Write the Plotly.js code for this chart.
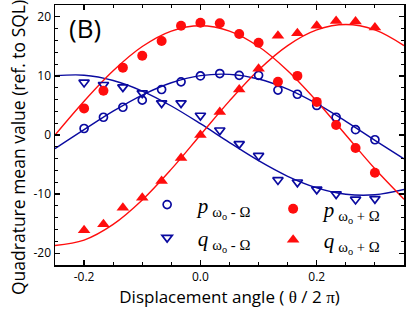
<!DOCTYPE html>
<html>
<head>
<meta charset="utf-8">
<script src="https://cdn.plot.ly/plotly-3.0.1.min.js"></script>
<style>html,body{margin:0;padding:0;background:#fff;}#chart{width:407px;height:314px;}</style>
</head>
<body>
<div id="chart"></div>
<script>
// Measured points (displacement angle θ/2π)
const angle = [-0.2, -0.1667, -0.1333, -0.1, -0.0667, -0.0333, 0, 0.0333, 0.0667, 0.1, 0.1333, 0.1667, 0.2, 0.2333, 0.2667, 0.3];
const pMinus = [1.1, 3.0, 4.7, 5.9, 7.7, 9.0, 10.0, 10.4, 10.1, 10.1, 7.6, 6.9, 5.0, 3.0, 0.9, -0.8];
const qMinus = [8.9, 8.5, 8.1, 7.1, 5.4, 5.4, 3.3, 0.8, -1.5, -3.5, -7.6, -8.0, -9.2, -10.0, -10.9, -10.8];
const pPlus = [4.5, 7.5, 11.4, 13.4, 15.9, 18.5, 19.0, 18.9, 17.1, 15.6, 9.0, 10.0, 5.6, 1.7, -2.2, -6.4];
const qPlus = [-16.1, -15.1, -12.3, -10.6, -7.8, -3.9, 0.0, 3.9, 7.7, 11.2, 16.8, 17.2, 18.5, 19.3, 19.2, 18.2];

// Fit curves
const fitAngle = [-0.25, -0.2, -0.15, -0.1, -0.05, 0, 0.05, 0.1, 0.15, 0.2, 0.25, 0.3, 0.35];
const fitPMinus = [-2.31, 0.90, 4.03, 6.76, 8.84, 10.04, 10.26, 9.48, 7.77, 5.30, 2.31, -0.90, -4.03];
const fitQMinus = [10.02, 10.12, 9.23, 7.44, 4.91, 1.91, -1.28, -4.35, -6.99, -8.94, -10.02, -10.12, -9.23];
const fitPPlus = [0.0, 5.72, 10.87, 14.97, 17.59, 18.5, 17.59, 14.97, 10.87, 5.72, 0.0, -5.72, -10.87];
const fitQPlus = [-18.7, -17.78, -15.13, -11.0, -5.78, 0.0, 5.78, 11.0, 15.13, 17.78, 18.7, 17.78, 15.13];

const xTickVals = [-0.2, 0.0, 0.2];
const xTickText = ['-0.2', '0.0', '0.2'];
const yTickVals = [-20, -10, 0, 10, 20];
const yTickText = ['-20', '-10', '0', '10', '20'];

const seriesNames = [
  '\u00a0\u00a0<i>p</i>\u2009<sub>ω<sub>o</sub> - Ω</sub>',
  '\u00a0\u00a0<i>q</i>\u2009<sub>ω<sub>o</sub> - Ω</sub>',
  '\u00a0\u00a0<i>p</i>\u2009<sub>ω<sub>o</sub> + Ω</sub>',
  '\u00a0\u00a0<i>q</i>\u2009<sub>ω<sub>o</sub> + Ω</sub>'
];

const BLUE = '#0a0aa0';
const RED = '#ff0d0d';

function fitTrace(y, color) {
  return {x: fitAngle, y: y, mode: 'lines', type: 'scatter', showlegend: false,
    line: {color: color, width: 1.4, shape: 'spline', smoothing: 1}, hoverinfo: 'skip'};
}

const traces = [
  fitTrace(fitPMinus, BLUE), fitTrace(fitQMinus, BLUE), fitTrace(fitPPlus, RED), fitTrace(fitQPlus, RED),
  {x: angle, y: pMinus, mode: 'markers', type: 'scatter', legend: 'legend', name: seriesNames[0],
   marker: {symbol: 'circle-open', size: 8, color: BLUE, line: {width: 1.7, color: BLUE}}},
  {x: angle, y: qMinus, mode: 'markers', type: 'scatter', legend: 'legend2', name: seriesNames[1],
   marker: {symbol: 'triangle-down-open', size: 9, color: BLUE, line: {width: 1.7, color: BLUE}}},
  {x: angle, y: pPlus, mode: 'markers', type: 'scatter', legend: 'legend3', name: seriesNames[2],
   marker: {symbol: 'circle', size: 10, color: RED}},
  {x: angle, y: qPlus, mode: 'markers', type: 'scatter', legend: 'legend4', name: seriesNames[3],
   marker: {symbol: 'triangle-up', size: 11, color: RED}}
];

const legendBase = {xanchor: 'left', yanchor: 'middle', bgcolor: 'rgba(0,0,0,0)', borderwidth: 0,
  font: {family: 'Liberation Serif', size: 21, color: '#000'}, itemclick: false};

const axisCommon = {showline: true, linecolor: '#000', linewidth: 1.5, mirror: 'allticks',
  ticks: 'inside', ticklen: 5, tickwidth: 1.2, tickcolor: '#000', showgrid: false, zeroline: false,
  tickfont: {family: 'Open Sans', size: 12, color: '#000'}};

const layout = {
  width: 407, height: 314,
  margin: {l: 55, r: 3, t: 5, b: 49},
  paper_bgcolor: '#fff', plot_bgcolor: '#fff',
  xaxis: Object.assign({}, axisCommon, {range: [-0.25, 0.35], tickmode: 'array', tickvals: xTickVals, ticktext: xTickText,
    minor: {dtick: 0.05, tick0: 0, ticks: 'inside', ticklen: 3, tickcolor: '#000', tickwidth: 1},
    title: {text: 'Displacement angle ( <span style="font-family:Liberation Serif">θ</span> / 2 <span style="font-family:Liberation Serif">π</span>)',
      font: {family: 'Open Sans', size: 17, color: '#000'}, standoff: 6}}),
  yaxis: Object.assign({}, axisCommon, {range: [-22, 22], tickmode: 'array', tickvals: yTickVals, ticktext: yTickText,
    minor: {dtick: 2, tick0: 0, ticks: 'inside', ticklen: 3, tickcolor: '#000', tickwidth: 1}}),
  legend: Object.assign({}, legendBase, {x: 0.264, y: 0.231}),
  legend2: Object.assign({}, legendBase, {x: 0.264, y: 0.104}),
  legend3: Object.assign({}, legendBase, {x: 0.625, y: 0.215}),
  legend4: Object.assign({}, legendBase, {x: 0.625, y: 0.096}),
  annotations: [
    {text: '(B)', xref: 'paper', yref: 'paper', x: 0.033, y: 0.99, xanchor: 'left', yanchor: 'top',
     showarrow: false, font: {family: 'Open Sans', size: 26, color: '#000'}},
    {text: 'Quadrature mean value (ref. to SQL)', xref: 'paper', yref: 'paper', x: -0.106, y: 0.45,
     xanchor: 'center', yanchor: 'middle', textangle: -90, showarrow: false,
     font: {family: 'Open Sans', size: 17.5, color: '#000'}}
  ]
};

Plotly.newPlot('chart', traces, layout, {displayModeBar: false, staticPlot: true});
</script>
</body>
</html>
